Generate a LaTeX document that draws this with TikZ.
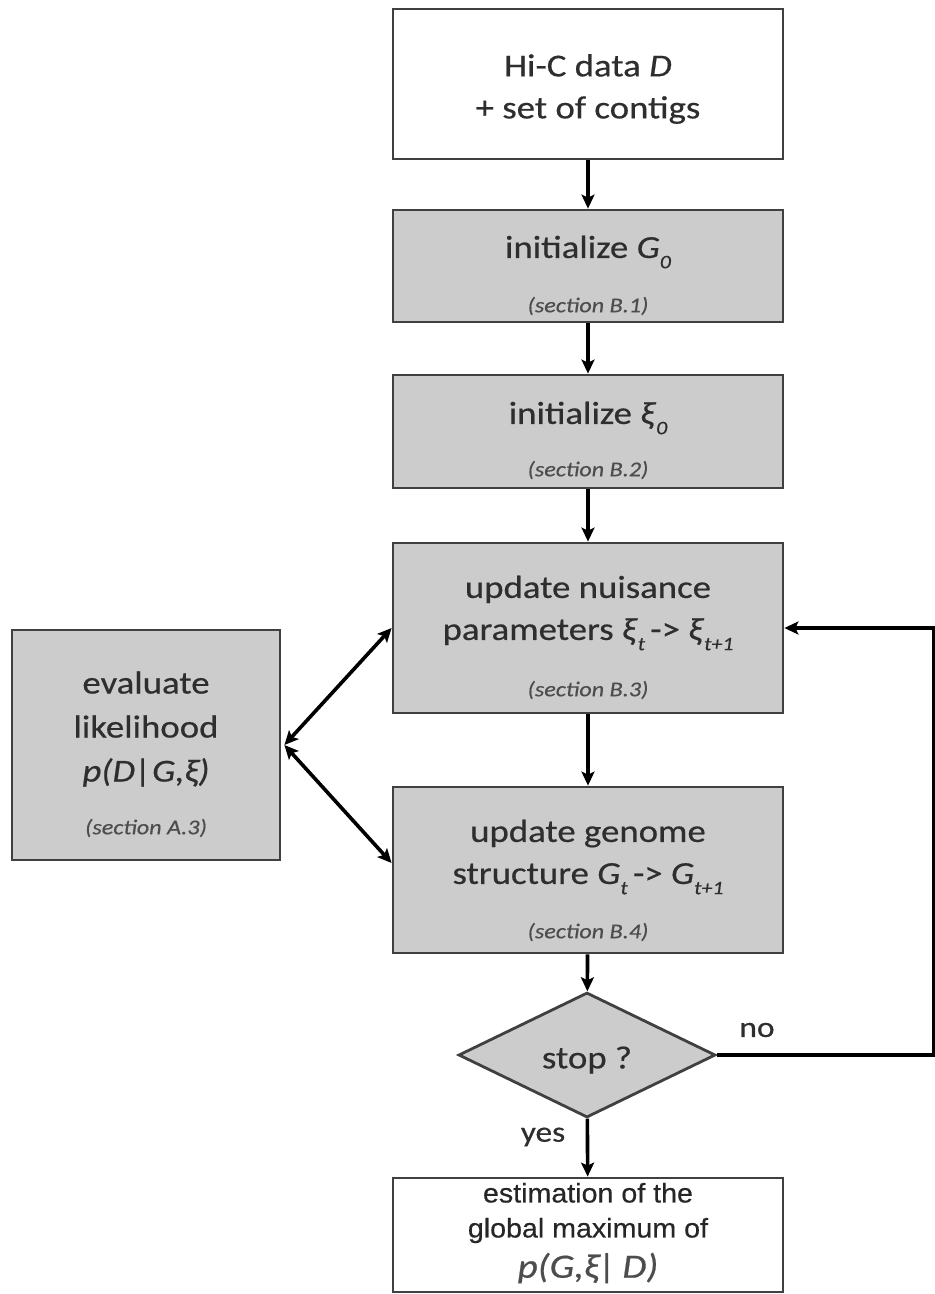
\documentclass[tikz,border=0pt]{standalone}
\usepackage{fontspec}
\setmainfont{Carlito}[FakeStretch=1.15, FakeBold=0.5]
\newfontfamily\arialfont{Liberation Sans}[FakeStretch=1.06, FakeBold=0.4]
\usetikzlibrary{shapes.geometric,arrows.meta}

\definecolor{boxgray}{HTML}{CCCCCC}
\definecolor{edgegray}{HTML}{404040}
\definecolor{inkgray}{HTML}{2E2E2E}
\definecolor{notegray}{HTML}{4D4D4D}

% lowered italic index, as in G_0 or \xi_{t+1}
\newcommand\lowidx[1]{\raisebox{-0.32em}{\fontsize{19}{19}\selectfont\itshape #1}}

\tikzset{
  x=1pt, y=-1pt,
  box/.style={draw=edgegray, line width=2.8pt, rectangle, inner sep=0pt},
  greybox/.style={box, fill=boxgray},
  whitebox/.style={box, fill=white},
  maintext/.style={text=inkgray, align=center, inner sep=0pt,
    font=\fontsize{32}{42}\selectfont},
  notetext/.style={text=notegray, inner sep=0pt,
    font=\fontsize{21}{21}\selectfont\itshape},
  labeltext/.style={text=inkgray, inner sep=0pt,
    font=\fontsize{29}{29}\selectfont},
  flow/.style={draw=black, line width=3.6pt,
    -{Stealth[length=14pt,width=13pt,inset=3pt]}},
  twoway/.style={draw=black, line width=3.6pt,
    {Stealth[length=14pt,width=13pt,inset=3pt]}-{Stealth[length=14pt,width=13pt,inset=3pt]}},
}

\begin{document}
\begin{tikzpicture}
\useasboundingbox (0,0) rectangle (935,1294);

% main column of steps
\node[whitebox, minimum width=390, minimum height=150] (input) at (588,84) {};
\node[maintext] (inputtxt) at (588,89) {Hi-C data \textit{D}\\+ set of contigs};

\node[greybox, minimum width=390, minimum height=112] (initg) at (588,266) {};
\node[maintext] (initgtxt) at (588,252) {initialize \textit{G}\lowidx{0}};
\node[notetext] (initgnote) at (588,306) {(section B.1)};

\node[greybox, minimum width=390, minimum height=113] (initxi) at (588,431.5) {};
\node[maintext] (initxitxt) at (588,418) {initialize \textit{ξ}\lowidx{0}};
\node[notetext] (initxinote) at (588,470) {(section B.2)};

\node[greybox, minimum width=390, minimum height=170] (nuis) at (588,628) {};
\node[maintext] (nuistxt) at (588,613) {update nuisance\\parameters \textit{ξ}\lowidx{t}\,-> \textit{ξ}\lowidx{t+1}};
\node[notetext] (nuisnote) at (588,690) {(section B.3)};

\node[greybox, minimum width=390, minimum height=166] (genome) at (588,870) {};
\node[maintext] (genometxt) at (588,857) {update genome\\structure \textit{G}\lowidx{t}\,-> \textit{G}\lowidx{t+1}};
\node[notetext] (genomenote) at (588,932) {(section B.4)};

% likelihood evaluation on the left
\node[greybox, minimum width=268, minimum height=230] (lik) at (146,745) {};
\node[maintext, font=\fontsize{32}{44}\selectfont] (liktxt) at (146,729)
  {evaluate\\likelihood\\\textit{p(D|G,ξ)}};
\node[notetext] (liknote) at (146,828) {(section A.3)};

% stopping test and result
\node[draw=edgegray, line width=2.8pt, fill=boxgray, diamond, inner sep=0pt,
      minimum width=257, minimum height=125] (stop) at (587,1055) {};
\node[maintext] (stoptxt) at (587,1060) {stop ?};

\node[whitebox, minimum width=390, minimum height=114] (result) at (588,1235) {};
\node[align=center, inner sep=0pt, text=black!85,
      font=\arialfont\fontsize{27}{35}\selectfont] (resulttxt) at (588,1213)
  {estimation of the\\global maximum of};
\node[text=notegray, inner sep=0pt, font=\fontsize{34}{34}\selectfont\itshape]
  (resultexpr) at (588,1268) {p(G,ξ|\,D)};

\node[labeltext] (nolbl) at (757,1030) {no};
\node[labeltext] (yeslbl) at (543,1137) {yes};

% connectors
\draw[flow] (input) -- (initg);
\draw[flow] (initg) -- (initxi);
\draw[flow] (initxi) -- (nuis);
\draw[flow] (nuis) -- (genome);
\draw[flow] (genome) -- (stop);
\draw[flow] (stop) -- (result);

\draw[twoway] ([xshift=3pt]lik.east) -- (nuis.west);
\draw[twoway] ([xshift=3pt]lik.east) -- ([yshift=7pt]genome.west);

\coordinate (loopdown) at (934,1055);
\coordinate (loopup) at (934,628);
\draw[flow] (stop.east) -- (loopdown) -- (loopup) -- (nuis.east);
\end{tikzpicture}
\end{document}
